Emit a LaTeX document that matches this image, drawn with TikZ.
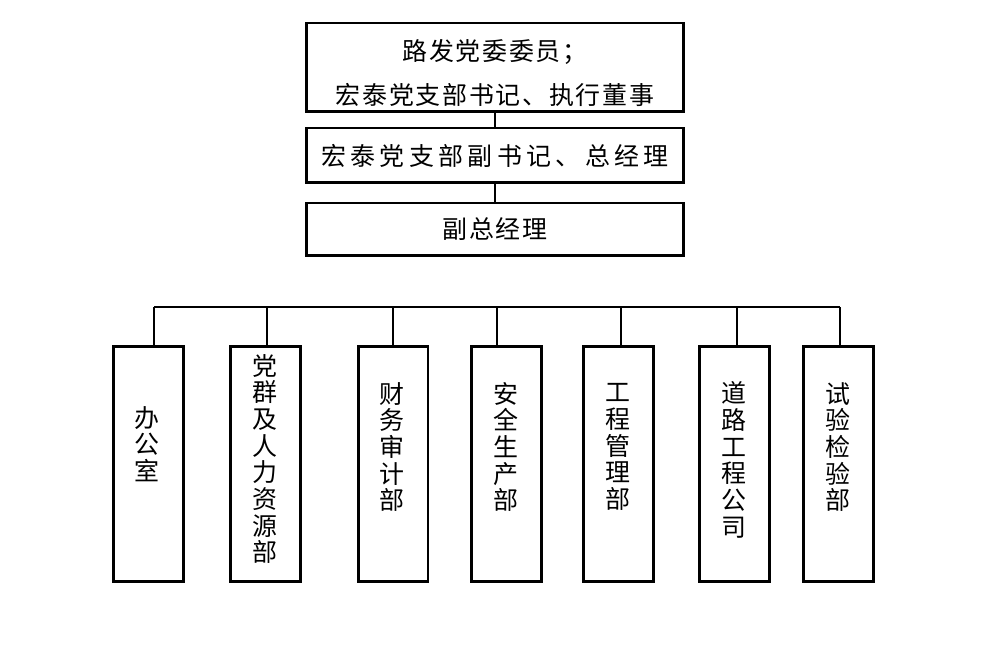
\documentclass[tikz,border=0pt]{standalone}
\usepackage{fontspec}
\newfontfamily\cjk[LetterSpace=7]{Noto Sans CJK SC}
\usetikzlibrary{calc}

\begin{document}
\begin{tikzpicture}[x=0.02cm,y=-0.02cm,
  box/.style={draw,line width=1.7pt,minimum width=7.56cm,inner sep=0pt,align=center,font=\cjk\fontsize{14.2}{25}\selectfont},
  dept/.style={draw,line width=1.7pt,minimum width=1.4cm,minimum height=4.72cm,inner sep=0pt},
  vtext/.style={inner sep=0pt,align=center,font=\cjk\fontsize{14.2}{15.2}\selectfont},
  wire/.style={line width=0.6pt}]
\useasboundingbox (0,0) rectangle (1007,668);

\node[box,minimum height=1.78cm] (wy) at (495,67.5) {};
\node[inner sep=0pt,align=center,font=\cjk\fontsize{14.2}{25}\selectfont] (wy-t) at (495,73) {路发党委委员；\\宏泰党支部书记、执行董事};
\node[box,minimum height=1.1cm] (zjl) at (495,155.5) {\addfontfeature{LetterSpace=17.6}宏泰党支部副书记、总经理};
\node[box,minimum height=1.06cm] (fzjl) at (495,229.5) {副总经理};

\node[dept] (bgs) at (148.5,464) {};
\node[dept] (dq) at (265.5,464) {};
\node[dept] (cw) at (393,464) {};
\node[dept] (aq) at (506.5,464) {};
\node[dept] (gc) at (618.5,464) {};
\node[dept] (dl) at (734.5,464) {};
\node[dept] (sy) at (838.5,464) {};

\node[vtext] (bgs-t) at (147,444) {办\\公\\室};
\node[vtext] (dq-t) at (264.5,459) {党\\群\\及\\人\\力\\资\\源\\部};
\node[vtext] (cw-t) at (392,447) {财\\务\\审\\计\\部};
\node[vtext] (aq-t) at (505.5,447) {安\\全\\生\\产\\部};
\node[vtext] (gc-t) at (617.5,447) {工\\程\\管\\理\\部};
\node[vtext] (dl-t) at (733.5,460) {道\\路\\工\\程\\公\\司};
\node[vtext] (sy-t) at (837.5,447) {试\\验\\检\\验\\部};

\draw[wire] (wy) -- (zjl);
\draw[wire] (zjl) -- (fzjl);
\coordinate (busL) at (154,307);
\coordinate (busR) at (840,307);
\draw[wire] (busL) -- (busR);
\draw[wire] ($(fzjl.south)+(2,0)$) -- ($(fzjl.south)+(2,0)$ |- busL);
\foreach \n/\dx in {bgs/5.5,dq/1.5,cw/0,aq/-9.5,gc/2.5,dl/2.5,sy/1.5}{
  \coordinate (\n-in) at ($(\n.north)+(\dx,0)$);
  \draw[wire] (\n-in) -- (\n-in |- busL);
}
\end{tikzpicture}
\end{document}
